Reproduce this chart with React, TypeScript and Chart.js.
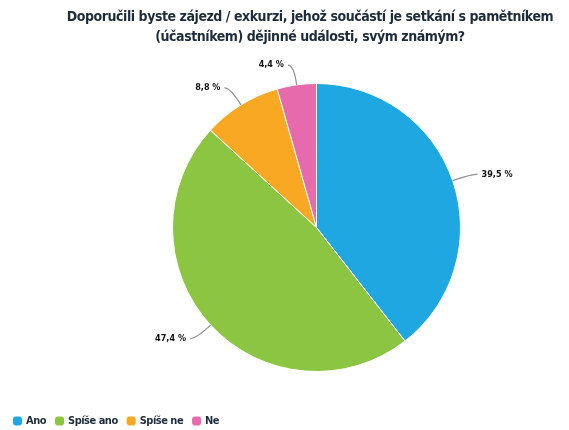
import React, { useEffect, useRef } from "react";
import { Chart, registerables } from "chart.js";

Chart.register(...registerables);

const titleLines = [
  "Doporučili byste zájezd / exkurzi, jehož součástí je setkání s pamětníkem",
  "(účastníkem) dějinné události, svým známým?",
];
const categories = ["Ano", "Spíše ano", "Spíše ne", "Ne"];
const values = [39.5, 47.4, 8.8, 4.4];
const valueLabels = ["39,5 %", "47,4 %", "8,8 %", "4,4 %"];
const colors = ["#1ea7e1", "#8cc541", "#f9a823", "#e76aac"];

const TITLE_FONT = "bold 14px 'DejaVu Sans Condensed', sans-serif";
const LEGEND_FONT = "bold 11px 'DejaVu Sans Condensed', sans-serif";
const LABEL_FONT = "bold 9px 'DejaVu Sans Condensed', sans-serif";

const decorPlugin = {
  id: "decor",
  afterDraw(chart: any) {
    const ctx = chart.ctx as CanvasRenderingContext2D;
    ctx.save();
    // title
    ctx.fillStyle = "#1d2b3a";
    ctx.font = TITLE_FONT;
    (ctx as any).letterSpacing = "-0.45px";
    ctx.textAlign = "center";
    ctx.textBaseline = "middle";
    ctx.fillText(titleLines[0], 310, 17);
    ctx.fillText(titleLines[1], 310, 37);
    (ctx as any).letterSpacing = "0px";

    // labels with leader lines
    const meta = chart.getDatasetMeta(0);
    meta.data.forEach((arc: any, i: number) => {
      const { x, y, startAngle, endAngle, outerRadius } = arc.getProps(
        ["x", "y", "startAngle", "endAngle", "outerRadius"],
        true
      );
      const mid = (startAngle + endAngle) / 2;
      const dx = Math.cos(mid);
      const dy = Math.sin(mid);
      const sign = dx >= 0 ? 1 : -1;
      const p0x = x + outerRadius * dx;
      const p0y = y + outerRadius * dy;
      const p1x = x + (outerRadius + 20) * dx;
      const p1y = y + (outerRadius + 20) * dy;
      const p2x = p1x + sign * 6;
      const p2y = p1y;
      ctx.beginPath();
      ctx.moveTo(p0x, p0y);
      ctx.quadraticCurveTo(p1x, p1y, p2x, p2y);
      ctx.strokeStyle = "#8f8f8f";
      ctx.lineWidth = 1.2;
      ctx.stroke();
      ctx.fillStyle = "#111111";
      ctx.font = LABEL_FONT;
      ctx.textAlign = sign > 0 ? "left" : "right";
      ctx.textBaseline = "middle";
      ctx.fillText(valueLabels[i], p2x + sign * 4, p2y);
    });

    // legend
    ctx.font = LEGEND_FONT;
    (ctx as any).letterSpacing = "-0.5px";
    ctx.textAlign = "left";
    ctx.textBaseline = "middle";
    let lx = 13;
    const ly = 421;
    categories.forEach((c, i) => {
      ctx.fillStyle = colors[i];
      ctx.beginPath();
      (ctx as any).roundRect(lx, ly - 4.5, 9, 9, 3);
      ctx.fill();
      ctx.fillStyle = "#1d2b3a";
      ctx.fillText(c, lx + 13, ly);
      lx += 13 + ctx.measureText(c).width + 9;
    });
    ctx.restore();
  },
};

export default function App() {
  const ref = useRef<HTMLCanvasElement>(null);
  useEffect(() => {
    if (!ref.current) return;
    const chart = new Chart(ref.current, {
      type: "pie",
      data: {
        labels: categories,
        datasets: [
          {
            data: values,
            backgroundColor: colors,
            borderColor: "#ffffff",
            borderWidth: 1,
          },
        ],
      },
      options: {
        responsive: false,
        animation: false,
        layout: { padding: { left: 172, right: 108, top: 83, bottom: 58 } },
        plugins: {
          legend: { display: false },
          title: { display: false },
          tooltip: { enabled: false },
        },
      },
      plugins: [decorPlugin],
    });
    return () => chart.destroy();
  }, []);
  return (
    <div style={{ position: "fixed", left: 0, top: 0, width: 569, height: 430, background: "#fff" }}>
      <canvas ref={ref} width={569} height={430} style={{ width: 569, height: 430 }} />
    </div>
  );
}
